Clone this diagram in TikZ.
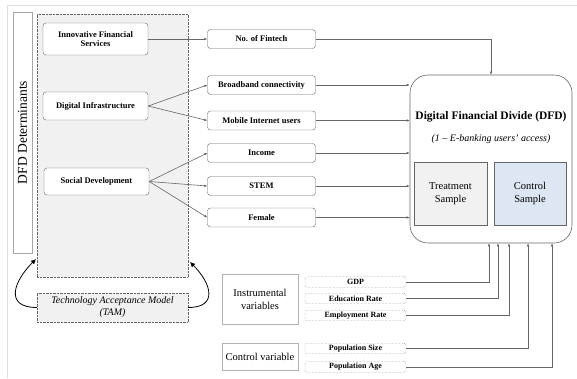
\documentclass[tikz,border=0pt]{standalone}
\usepackage{fontspec}
\setmainfont{Liberation Serif}
\usepackage{xcolor}
\usetikzlibrary{arrows.meta}
\definecolor{boxgray}{HTML}{F1F1F1}
\definecolor{ctrlblue}{HTML}{DDE6F3}
\definecolor{edge}{HTML}{666666}

\begin{document}
\begin{tikzpicture}[x=1pt,y=-1pt,
      det/.style = {draw=edge, rounded corners=3pt, fill=white, align=center,
                    minimum width=105pt, font=\bfseries\fontsize{8.5}{9.5}\selectfont},
      var/.style = {draw=edge, rounded corners=3pt, fill=white, inner sep=0pt,
                    minimum width=108pt, minimum height=19pt, font=\bfseries\fontsize{8.5}{9.5}\selectfont},
      ivar/.style = {draw=black!60, densely dotted, rounded corners=2pt, fill=white, inner sep=0pt,
                    minimum width=101pt, minimum height=10.5pt, font=\bfseries\fontsize{8}{8}\selectfont},
      plain/.style = {draw=gray!60, fill=white, align=center, inner sep=0pt,
                    font=\fontsize{10.5}{12.5}\selectfont},
      arr/.style = {draw=edge, line width=0.6pt, -{Latex[length=3pt,width=2.6pt]}},
      tamarrow/.style = {draw=black, thick, -{Latex[length=5pt,width=5pt]}}]

  \useasboundingbox (0,0) rectangle (577,378);
  % page frame
  \draw[gray!25] (7,378) -- (7,5) -- (577,5);

  % DFD determinants
  \node[draw=gray!70, rotate=90, minimum width=241pt, minimum height=19pt, inner sep=0pt,
        font=\fontsize{13.5}{14}\selectfont] (lbl) at (22.5,132.5) {DFD Determinants};
  \node[draw=black!60, densely dotted, fill=boxgray, minimum width=151pt,
        minimum height=263pt] (detbox) at (112.5,145.5) {};
  \node[det, minimum height=32pt] (ifs) at (95.5,39) {Innovative Financial\\Services};
  \node[det, minimum height=28pt] (di) at (95.5,106) {Digital Infrastructure};
  \node[det, minimum height=27pt] (sd) at (96.5,181.5) {Social Development};

  % TAM
  \node[draw=black!60, densely dotted, fill=boxgray, minimum width=151pt, minimum height=29pt,
        inner sep=0pt, align=center, font=\itshape\fontsize{10}{12}\selectfont] (tam) at (112.5,307.5)
        {Technology Acceptance Model\\(TAM)};
  \coordinate (tl) at (36,259);
  \coordinate (tr) at (190,262);
  \draw[tamarrow] (tam.west) to[out=180, in=225, looseness=1.7] (tl);
  \draw[tamarrow] (tam.east) to[out=0, in=315, looseness=1.7] (tr);

  % Determinant variables
  \node[var] (fin) at (261.5,39) {No. of Fintech};
  \node[var] (bb) at (261.5,85) {Broadband connectivity};
  \node[var] (mob) at (261.5,120.5) {Mobile Internet users};
  \node[var] (inc) at (261.5,153) {Income};
  \node[var] (stem) at (261.5,186) {STEM};
  \node[var] (fem) at (261.5,217.5) {Female};

  \draw[arr] (ifs.east) -- (fin.west);
  \draw[arr] (di.east) -- (bb.west);
  \draw[arr] (di.east) -- (mob.west);
  \draw[arr] (sd.east) -- (inc.west);
  \draw[arr] (sd.east) -- (stem.west);
  \draw[arr] (sd.east) -- (fem.west);

  % Digital financial divide
  \node[draw=edge, line width=0.6pt, rounded corners=18pt, minimum width=162pt, minimum height=168pt] (dfd) at (491,159) {};
  \node[font=\bfseries\fontsize{11.5}{12}\selectfont] (title) at (491,117) {Digital Financial Divide (DFD)};
  \node[font=\itshape\fontsize{10}{12}\selectfont] (sub) at (491,139) {(1 -- E-banking users' access)};
  \node[plain, draw=edge, fill=boxgray, minimum width=73pt, minimum height=63pt] (treat) at (450.5,193.5) {Treatment\\Sample};
  \node[plain, draw=edge, fill=ctrlblue, minimum width=72pt, minimum height=63pt] (ctrl) at (530,193.5) {Control\\Sample};

  \draw[arr] (fin.east) -| (dfd.north);
  \draw[arr] (bb.east) -- (bb.east -| dfd.west);
  \draw[arr] (mob.east) -- (mob.east -| dfd.west);
  \draw[arr] (inc.east) -- (inc.east -| dfd.west);
  \draw[arr] (stem.east) -- (stem.east -| dfd.west);
  \draw[arr] (fem.east) -- (fem.east -| dfd.west);

  % Instrumental and control variables
  \node[plain, minimum width=76pt, minimum height=50pt] (inst) at (260,299.5) {Instrumental\\variables};
  \node[plain, minimum width=76pt, minimum height=27pt] (cv) at (260,356.5) {Control variable};
  \node[ivar] (gdp) at (355.5,282) {GDP};
  \node[ivar] (edu) at (355.5,298.5) {Education Rate};
  \node[ivar] (emp) at (355.5,315.5) {Employment Rate};
  \node[ivar] (ps) at (355.5,348.5) {Population Size};
  \node[ivar] (pa) at (355.5,367) {Population Age};

  \draw[arr] (gdp.east) -| ([xshift=-2pt]dfd.south);
  \draw[arr] (edu.east) -| ([xshift=7pt]dfd.south);
  \draw[arr] (emp.east) -| ([xshift=18pt]dfd.south);
  \draw[arr] (ps.east) -| ([xshift=37pt]dfd.south);
  \draw[arr] (pa.east) -| ([xshift=61pt]dfd.south);

\end{tikzpicture}
\end{document}
